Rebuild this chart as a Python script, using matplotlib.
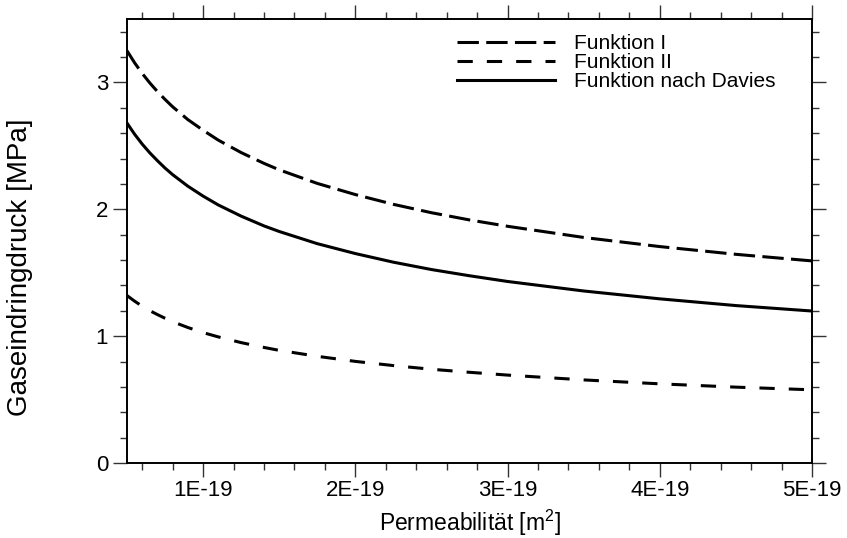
import matplotlib

matplotlib.use("Agg")
import matplotlib.pyplot as plt
from matplotlib.ticker import FuncFormatter, MultipleLocator

plt.rcParams["font.family"] = ["Liberation Sans", "DejaVu Sans"]
plt.rcParams["mathtext.fontset"] = "custom"
plt.rcParams["mathtext.rm"] = "Liberation Sans"
plt.rcParams["mathtext.it"] = "Liberation Sans:italic"

# Permeabilitaet in E-19 m^2, Gaseindringdruck in MPa
perm = [0.5, 0.55, 0.6, 0.65, 0.7, 0.75, 0.8, 0.9, 1.0, 1.1, 1.25, 1.4,
        1.5, 1.75, 2.0, 2.25, 2.5, 2.75, 3.0, 3.5, 4.0, 4.5, 5.0]
funktion_1 = [3.250, 3.155, 3.071, 2.996, 2.928, 2.866, 2.808, 2.707,
              2.623, 2.545, 2.447, 2.362, 2.311, 2.204, 2.116, 2.039,
              1.973, 1.916, 1.866, 1.778, 1.706, 1.645, 1.593]
funktion_2 = [1.320, 1.276, 1.236, 1.201, 1.170, 1.141, 1.114, 1.068,
              1.028, 0.994, 0.949, 0.911, 0.888, 0.841, 0.801, 0.768,
              0.739, 0.715, 0.693, 0.655, 0.624, 0.598, 0.577]
davies = [2.680, 2.592, 2.514, 2.445, 2.383, 2.325, 2.273, 2.182,
          2.104, 2.034, 1.946, 1.869, 1.825, 1.729, 1.651, 1.583,
          1.525, 1.476, 1.431, 1.356, 1.294, 1.241, 1.198]

labels = ["Funktion I", "Funktion II", "Funktion nach Davies"]

x = [p * 1e-19 for p in perm]

fig = plt.figure(figsize=(8.47, 5.38), dpi=100)
ax = fig.add_axes([0.1499, 0.1394, 0.8088, 0.8253])

lw = 2.2
ax.plot(x, funktion_1, color="black", lw=lw, dashes=(7, 2.4), label=labels[0])
ax.plot(x, funktion_2, color="black", lw=lw, dashes=(5, 4.6), label=labels[1])
ax.plot(x, davies, color="black", lw=lw, label=labels[2])

ax.set_xlim(0.5e-19, 5.0e-19)
ax.set_ylim(0, 3.5)
ax.xaxis.set_major_locator(MultipleLocator(1e-19))
ax.xaxis.set_minor_locator(MultipleLocator(0.2e-19))
ax.yaxis.set_major_locator(MultipleLocator(1))
ax.yaxis.set_minor_locator(MultipleLocator(0.2))
ax.xaxis.set_major_formatter(FuncFormatter(lambda v, p: f"{v / 1e-19:.0f}E-19"))
ax.yaxis.set_major_formatter(FuncFormatter(lambda v, p: f"{v:.0f}"))

ax.tick_params(which="both", direction="out", top=True, right=True,
               labelsize=16, width=1.0, color="#333333")
ax.tick_params(which="major", length=10)
ax.tick_params(axis="x", which="major", pad=2)
ax.tick_params(axis="y", which="major", pad=3.5)
ax.tick_params(which="minor", length=5)
for s in ax.spines.values():
    s.set_linewidth(1.4)

ax.set_xlabel("Permeabilität [m$^2$]", fontsize=16.5)
ax.set_ylabel("Gaseindringdruck [MPa]", fontsize=20)
ax.xaxis.set_label_coords(0.5, -0.1)
ax.yaxis.set_label_coords(-0.137, 0.441)

ax.legend(loc="upper left", bbox_to_anchor=(0.46, 0.999), frameon=False,
          fontsize=15, handlelength=4.7, handletextpad=0.95,
          labelspacing=0.0, borderpad=0.2)

fig.savefig("out.png", dpi=100)
